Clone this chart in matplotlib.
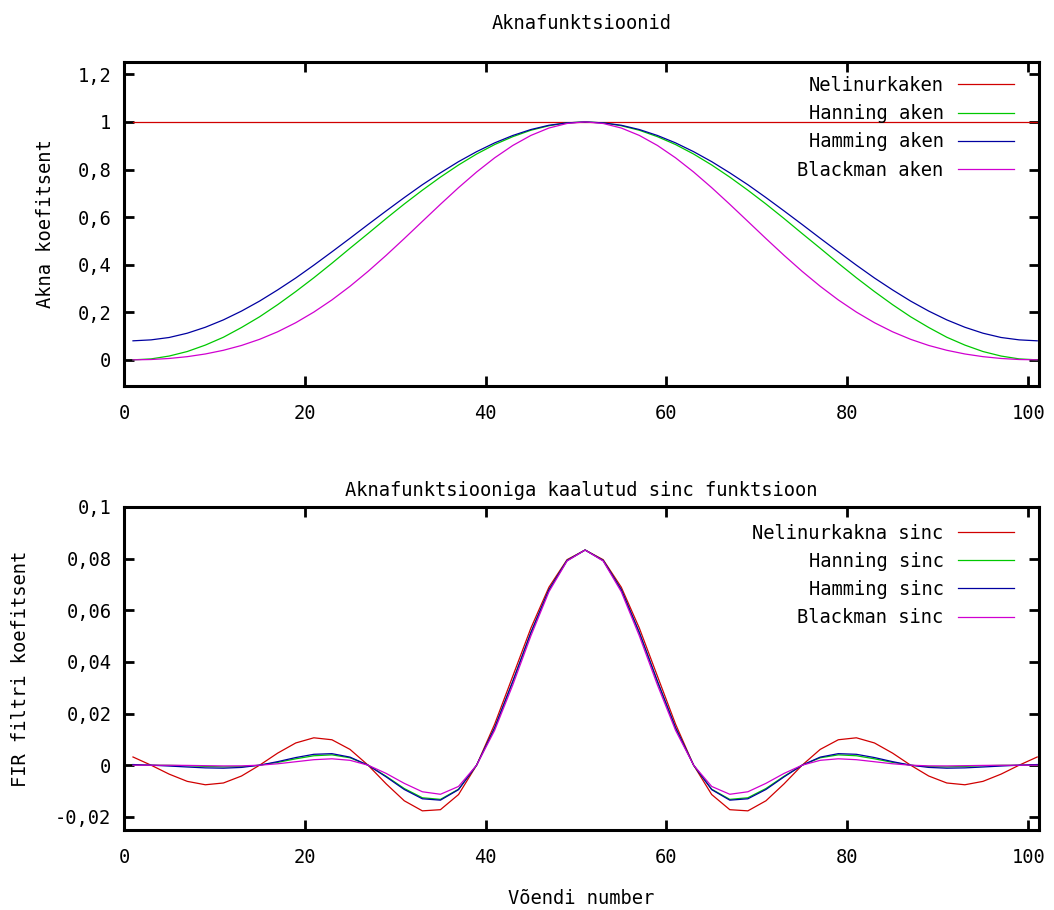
import matplotlib
matplotlib.use("Agg")
import matplotlib.pyplot as plt

plt.rcParams['font.family'] = ['DejaVu Sans Mono']

# sample numbers (every second tap)
taps = list(range(1, 102, 2))

# window coefficients
rect_win = [1.0] * 51
hann_win = [0.0, 0.004, 0.016, 0.035, 0.062, 0.095, 0.136, 0.181, 0.232, 0.287,
            0.345, 0.406, 0.469, 0.531, 0.594, 0.655, 0.713, 0.768, 0.819, 0.865,
            0.905, 0.938, 0.965, 0.984, 0.996, 1.0,
            0.996, 0.984, 0.965, 0.938, 0.905, 0.865, 0.819, 0.768, 0.713, 0.655,
            0.594, 0.531, 0.469, 0.406, 0.345, 0.287, 0.232, 0.181, 0.136, 0.095,
            0.062, 0.035, 0.016, 0.004, 0.0]
hamm_win = [0.08, 0.084, 0.094, 0.112, 0.137, 0.168, 0.205, 0.247, 0.294, 0.344,
            0.398, 0.454, 0.511, 0.569, 0.626, 0.682, 0.736, 0.786, 0.833, 0.875,
            0.912, 0.943, 0.968, 0.986, 0.996, 1.0,
            0.996, 0.986, 0.968, 0.943, 0.912, 0.875, 0.833, 0.786, 0.736, 0.682,
            0.626, 0.569, 0.511, 0.454, 0.398, 0.344, 0.294, 0.247, 0.205, 0.168,
            0.137, 0.112, 0.094, 0.084, 0.08]
black_win = [0.0, 0.0014, 0.0058, 0.0134, 0.0247, 0.0402, 0.0605, 0.0863, 0.118, 0.1561,
             0.2008, 0.2519, 0.3092, 0.372, 0.4393, 0.5098, 0.5819, 0.6538, 0.7237, 0.7895,
             0.8492, 0.901, 0.9432, 0.9744, 0.9935, 1.0,
             0.9935, 0.9744, 0.9432, 0.901, 0.8492, 0.7895, 0.7237, 0.6538, 0.5819, 0.5098,
             0.4393, 0.372, 0.3092, 0.2519, 0.2008, 0.1561, 0.118, 0.0863, 0.0605, 0.0402,
             0.0247, 0.0134, 0.0058, 0.0014, 0.0]

# windowed sinc coefficients
rect_sinc = [0.00318, 0.0, -0.00346, -0.00626, -0.00758, -0.00689, -0.00419, 0.0, 0.00468, 0.00861,
             0.01061, 0.00985, 0.00612, 0.0, -0.00723, -0.01378, -0.01768, -0.01723, -0.01137, 0.0,
             0.01592, 0.03446, 0.05305, 0.06892, 0.07958, 0.08333,
             0.07958, 0.06892, 0.05305, 0.03446, 0.01592, 0.0, -0.01137, -0.01723, -0.01768, -0.01378,
             -0.00723, 0.0, 0.00612, 0.00985, 0.01061, 0.00861, 0.00468, 0.0, -0.00419, -0.00689,
             -0.00758, -0.00626, -0.00346, 0.0, 0.00318]
hann_sinc = [0.0, 0.0, -0.00006, -0.00022, -0.00047, -0.00065, -0.00057, 0.0, 0.00109, 0.00247,
             0.00366, 0.004, 0.00287, 0.0, -0.00429, -0.00903, -0.01261, -0.01323, -0.00931, 0.0,
             0.01441, 0.03232, 0.05119, 0.06782, 0.07926, 0.08333,
             0.07926, 0.06782, 0.05119, 0.03232, 0.01441, 0.0, -0.00931, -0.01323, -0.01261, -0.00903,
             -0.00429, 0.0, 0.00287, 0.004, 0.00366, 0.00247, 0.00109, 0.0, -0.00057, -0.00065,
             -0.00047, -0.00022, -0.00006, 0.0, 0.0]
hamm_sinc = [0.00025, 0.0, -0.00033, -0.0007, -0.00104, -0.00116, -0.00086, 0.0, 0.00138, 0.00296,
             0.00422, 0.00447, 0.00313, 0.0, -0.00453, -0.0094, -0.01301, -0.01354, -0.00947, 0.0,
             0.01452, 0.0325, 0.05135, 0.06795, 0.07926, 0.08333,
             0.07926, 0.06795, 0.05135, 0.0325, 0.01452, 0.0, -0.00947, -0.01354, -0.01301, -0.0094,
             -0.00453, 0.0, 0.00313, 0.00447, 0.00422, 0.00296, 0.00138, 0.0, -0.00086, -0.00116,
             -0.00104, -0.0007, -0.00033, 0.0, 0.00025]
black_sinc = [0.0, 0.0, -0.00002, -0.00008, -0.00019, -0.00028, -0.00025, 0.0, 0.00055, 0.00134,
              0.00213, 0.00248, 0.00189, 0.0, -0.00318, -0.00703, -0.01029, -0.01126, -0.00823, 0.0,
              0.01352, 0.03105, 0.05004, 0.06716, 0.07906, 0.08333,
              0.07906, 0.06716, 0.05004, 0.03105, 0.01352, 0.0, -0.00823, -0.01126, -0.01029, -0.00703,
              -0.00318, 0.0, 0.00189, 0.00248, 0.00213, 0.00134, 0.00055, 0.0, -0.00025, -0.00028,
              -0.00019, -0.00008, -0.00002, 0.0, 0.0]

win_labels = ["Nelinurkaken", "Hanning aken", "Hamming aken", "Blackman aken"]
sinc_labels = ["Nelinurkakna sinc", "Hanning sinc", "Hamming sinc", "Blackman sinc"]
colors = ["#d00000", "#00c800", "#0000a0", "#d000d0"]

top_yticks = [0, 0.2, 0.4, 0.6, 0.8, 1.0, 1.2]
bot_yticks = [-0.02, 0, 0.02, 0.04, 0.06, 0.08, 0.1]
xticks = [0, 20, 40, 60, 80, 100]

FS = 13.5


def fmt(v):
    s = ("%g" % v).replace(".", ",")
    return "0" if s == "-0" else s


def style(ax, yticks, leg_y):
    ax.set_xlim(0, 101.2)
    ax.set_xticks(xticks)
    ax.set_xticklabels([str(t) for t in xticks], fontsize=FS)
    ax.set_yticks(yticks)
    ax.set_yticklabels([fmt(t) for t in yticks], fontsize=FS)
    ax.tick_params(direction="in", length=7, width=2, top=True, right=True, pad=9, colors="black")
    ax.tick_params(axis="x", pad=13)
    for sp in ax.spines.values():
        sp.set_linewidth(2.2)
    ax.legend(loc="upper right", bbox_to_anchor=(0.988, leg_y), frameon=False,
              markerfirst=False, fontsize=FS, handlelength=3.0, handletextpad=0.75,
              labelspacing=0.49, borderaxespad=0.25, borderpad=0.5)


fig = plt.figure(figsize=(10.54, 9.10), dpi=100)
ax1 = fig.add_axes([0.1176, 0.5758, 0.8682, 0.3561])
ax2 = fig.add_axes([0.1176, 0.0879, 0.8682, 0.3550])

for y, lab, c in zip([rect_win, hann_win, hamm_win, black_win], win_labels, colors):
    ax1.plot(taps, y, color=c, lw=0.9, label=lab)
ax1.set_ylim(-0.11, 1.252)
style(ax1, top_yticks, 1.0)
ax1.set_title("Aknafunktsioonid", fontsize=FS, pad=24)
ax1.set_ylabel("Akna koefitsent", fontsize=FS, labelpad=16)

for y, lab, c in zip([rect_sinc, hann_sinc, hamm_sinc, black_sinc], sinc_labels, colors):
    ax2.plot(taps, y, color=c, lw=0.9, label=lab)
ax2.set_ylim(-0.0251, 0.1)
style(ax2, bot_yticks, 0.992)
ax2.set_title("Aknafunktsiooniga kaalutud sinc funktsioon", fontsize=FS, pad=8)
ax2.set_ylabel("FIR filtri koefitsent", fontsize=FS, labelpad=18)
ax2.set_xlabel("Võendi number", fontsize=FS, labelpad=16)

fig.savefig("out.png", dpi=100)
